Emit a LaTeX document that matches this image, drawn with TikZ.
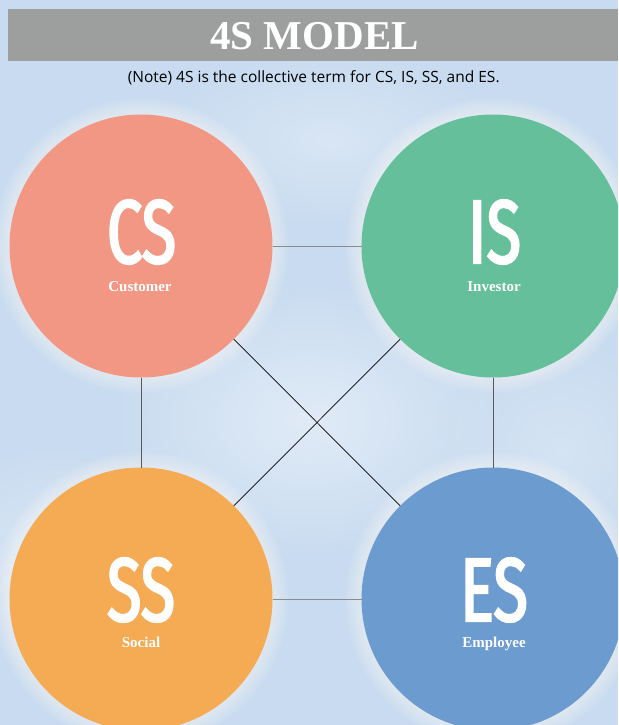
\documentclass[tikz,border=0pt]{standalone}
\usepackage{fontspec}
\setmainfont{Liberation Serif}
\newfontfamily\notefont{Open Sans}
\newfontfamily\bigfont[FakeStretch=0.7, FakeBold=2.5]{Fira Sans}
\usetikzlibrary{fadings}

\definecolor{skyblue}{HTML}{C8DBF0}
\definecolor{bargray}{HTML}{9D9E9E}
\definecolor{cscol}{HTML}{F29783}
\definecolor{iscol}{HTML}{64BF9A}
\definecolor{sscol}{HTML}{F5AA54}
\definecolor{escol}{HTML}{6C9BD0}

\tikzfading[name=softedge, inner color=transparent!0, outer color=transparent!100]

\tikzset{
  disc/.style={circle, inner sep=0pt, outer sep=0pt, minimum size=263pt, fill=#1},
  abbr/.style={text=white, anchor=base, inner sep=0pt, text depth=0pt, font=\bigfont\fontsize{90}{90}\selectfont},
  role/.style={text=white, anchor=base, inner sep=0pt, font=\bfseries\fontsize{15}{15}\selectfont},
  link/.style={line width=0.8pt, draw=#1},
}

\begin{document}
\begin{tikzpicture}[x=1pt,y=-1pt]
\useasboundingbox (0,0) rectangle (618,725);
\clip (0,0) rectangle (618,725);

% sky background with soft clouds
\fill[skyblue] (0,0) rectangle (618,725);
\fill[white, opacity=0.45, path fading=softedge] (310,420) ellipse (200 and 140);
\fill[white, opacity=0.35, path fading=softedge] (60,560) ellipse (140 and 120);
\fill[white, opacity=0.3, path fading=softedge] (330,140) ellipse (180 and 90);
\fill[white, opacity=0.25, path fading=softedge] (560,450) ellipse (120 and 120);

% white halo round each disc
\foreach \cx/\cy in {141/246, 493/246, 141/599, 493/599}{
  \foreach \k in {1,...,10}{
    \fill[white, opacity=0.06] (\cx,\cy) circle (131.5+\k*1.6);
  }
}

% the four discs
\node[disc=cscol] (cs) at (141,246) {};
\node[disc=iscol] (is) at (493,246) {};
\node[disc=sscol] (ss) at (141,599) {};
\node[disc=escol] (es) at (493,599) {};

% connectors between the discs
\draw[link=black!45] (cs) -- (is);
\draw[link=black!45] (ss) -- (es);
\draw[link=black!65] (cs) -- (ss);
\draw[link=black!65] (is) -- (es);
\draw[line width=0.7pt, black] (cs) -- (es);
\draw[line width=0.7pt, black] (is) -- (ss);

% title bar and note
\fill[bargray] (8,9) rectangle (618,61.5);
\node[anchor=base, text=white, font=\bfseries\fontsize{41}{41}\selectfont] (title) at (314.5,50) {4S MODEL};
\node[anchor=base, text=black, font=\notefont\fontsize{15.5}{15.5}\selectfont] (note) at (313.7,82) {(Note) 4S is the collective term for CS, IS, SS, and ES.};

% disc labels
\node[abbr] (csabbr) at (141.5,263) {CS};
\node[role] (csrole) at (140,291.5) {Customer};
\node[abbr] (isabbr) at (494.5,263) {IS};
\node[role] (isrole) at (494,291.5) {Investor};
\node[abbr] (ssabbr) at (141,621) {SS};
\node[role] (ssrole) at (141,647) {Social};
\node[abbr] (esabbr) at (494,621) {ES};
\node[role] (esrole) at (494,647) {Employee};
\end{tikzpicture}
\end{document}
